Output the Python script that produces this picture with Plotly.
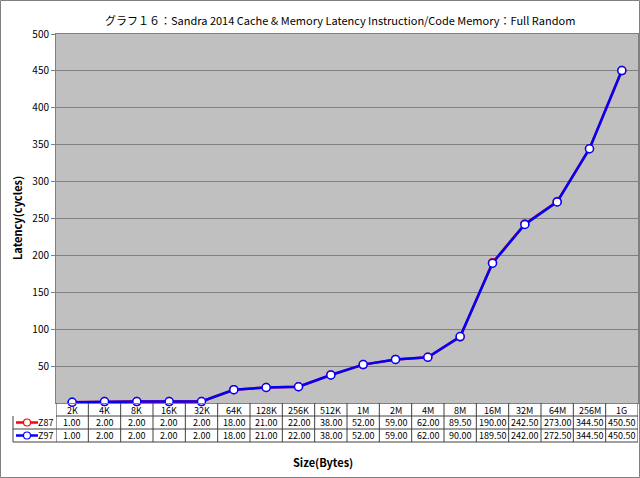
import plotly.graph_objects as go

categories = ["2K", "4K", "8K", "16K", "32K", "64K", "128K", "256K", "512K", "1M",
              "2M", "4M", "8M", "16M", "32M", "64M", "256M", "1G"]
z87 = [1.00, 2.00, 2.00, 2.00, 2.00, 18.00, 21.00, 22.00, 38.00, 52.00,
       59.00, 62.00, 89.50, 190.00, 242.50, 273.00, 344.50, 450.50]
z97 = [1.00, 2.00, 2.00, 2.00, 2.00, 18.00, 21.00, 22.00, 38.00, 52.00,
       59.00, 62.00, 90.00, 189.50, 242.00, 272.50, 344.50, 450.50]
series_names = ["Z87", "Z97"]
series_colors = ["#FF0000", "#0000FF"]
y_ticks = [0, 50, 100, 150, 200, 250, 300, 350, 400, 450, 500]

W, H = 640, 478
L, R, T, B = 56, 638, 34, 403
pw, ph = R - L, B - T

def px_x(p):
    return (p - L) / pw

def px_y(p):
    return (B - p) / ph

FONT = "Noto Sans CJK JP, Liberation Sans, Arial"

fig = go.Figure()
for name, vals, col in zip(series_names, [z87, z97], series_colors):
    fig.add_trace(go.Scatter(
        x=categories, y=vals, mode="lines+markers", name=name,
        line=dict(color=col, width=2.5),
        marker=dict(symbol="circle", size=8, color="white", line=dict(color=col, width=1.5)),
        cliponaxis=False, showlegend=False))

# bottom y tick label drawn as a text mark on an overlay linear axis (left of plot area)
fig.add_trace(go.Scatter(
    x=[-0.68], y=[y_ticks[0]], mode="text", text=[str(y_ticks[0])],
    textposition="middle left", textfont=dict(size=10, color="black", family=FONT),
    xaxis="x2", yaxis="y", cliponaxis=False, showlegend=False, hoverinfo="skip"))

shapes = []
annotations = []
row_edges = [403, 416, 429, 442]
line_col = "#404040"

def ann(x, y, text, xref="paper", yref="paper", xanchor="center", size=9, angle=0):
    annotations.append(dict(x=x, y=y, xref=xref, yref=yref, text=text,
                            xanchor=xanchor, yanchor="middle", textangle=angle,
                            showarrow=False, font=dict(size=size, color="black", family=FONT)))

# horizontal table lines
shapes.append(dict(type="line", xref="paper", yref="paper", x0=0, x1=1,
                   y0=px_y(row_edges[1]), y1=px_y(row_edges[1]), line=dict(color=line_col, width=1)))
for e in row_edges[2:]:
    shapes.append(dict(type="line", xref="paper", yref="paper", x0=px_x(13), x1=1,
                       y0=px_y(e), y1=px_y(e), line=dict(color=line_col, width=1)))
# vertical table lines
for i in range(len(categories) + 1):
    shapes.append(dict(type="line", xref="x", yref="paper", x0=i - 0.5, x1=i - 0.5,
                       y0=px_y(403), y1=px_y(442), line=dict(color=line_col, width=1)))
shapes.append(dict(type="line", xref="paper", yref="paper", x0=px_x(13), x1=px_x(13),
                   y0=px_y(416), y1=px_y(442), line=dict(color=line_col, width=1)))

# header labels
for c in categories:
    ann(c, px_y(410), c, xref="x")
# values + legend keys
for r, (name, vals, col) in enumerate(zip(series_names, [z87, z97], series_colors)):
    yc = (row_edges[r + 1] + row_edges[r + 2]) / 2
    for c, v in zip(categories, vals):
        ann(c, px_y(yc), f"{v:.2f}", xref="x")
    shapes.append(dict(type="line", xref="paper", yref="paper", x0=px_x(16), x1=px_x(38),
                       y0=px_y(yc), y1=px_y(yc), line=dict(color=col, width=2.5)))
    shapes.append(dict(type="circle", xref="paper", yref="paper", x0=px_x(23.5), x1=px_x(30.5),
                       y0=px_y(yc + 3.5), y1=px_y(yc - 3.5), fillcolor="white",
                       line=dict(color=col, width=1.2)))
    ann(px_x(55), px_y(yc), name, xanchor="right")

# axis titles and chart title
ann(px_x(17), px_y(218), "<b>Latency(cycles)</b>", size=11, angle=-90)
ann(px_x(323), px_y(462), "<b>Size(Bytes)</b>", size=11)
ann(px_x(340), px_y(20),
    "グラフ１６：Sandra 2014 Cache & Memory Latency Instruction/Code Memory：Full Random", size=11)
# outer border
shapes.append(dict(type="rect", xref="paper", yref="paper", x0=px_x(0.5), x1=px_x(639.5),
                   y0=px_y(477.5), y1=px_y(0.5), line=dict(color="#808080", width=1),
                   fillcolor="rgba(0,0,0,0)", layer="below"))

fig.update_layout(
    width=W, height=H, margin=dict(l=L, r=W - R, t=T, b=H - B, pad=0),
    paper_bgcolor="white", plot_bgcolor="#C0C0C0",
    shapes=shapes, annotations=annotations, showlegend=False,
    xaxis=dict(type="category", range=[-0.5, len(categories) - 0.5], showticklabels=False,
               showgrid=False, zeroline=False, showline=True, linecolor="#808080", mirror=True,
               ticks=""),
    xaxis2=dict(type="linear", range=[-0.5, len(categories) - 0.5], overlaying="x",
                visible=False, showgrid=False, zeroline=False),
    yaxis=dict(range=[0, 500], tickmode="array", tickvals=y_ticks[1:],
               showgrid=True, gridcolor="#808080", gridwidth=1,
               zeroline=False, showline=True, linecolor="#808080", mirror=True,
               ticks="outside", ticklen=4, tickcolor="#808080",
               tickfont=dict(size=10, color="black", family=FONT)),
)
fig.write_html("out.html")
